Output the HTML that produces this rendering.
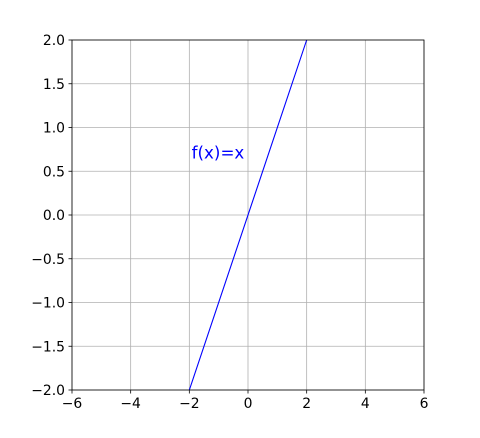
<!DOCTYPE html>
<html><head><meta charset="utf-8"><style>
body{margin:0;background:#fff;}
svg{display:block;font-family:"DejaVu Sans","Liberation Sans",sans-serif;}
</style></head><body>
<svg id="chart" width="480" height="438">
</svg>
<script>
const xTicks=[-6,-4,-2,0,2,4,6];
const yTicks=[-2.0,-1.5,-1.0,-0.5,0.0,0.5,1.0,1.5,2.0];
const lineX=[-2,2];
const lineY=[-2,2];
const labelText="f(x)=x";
const labelPos=[-1.92,0.645];
const L=72,R=424,T=40,B=390;
const sx=v=>L+(v+6)/12*(R-L);
const sy=v=>B-(v+2)/4*(B-T);
const svg=document.getElementById('chart');
const NS='http://www.w3.org/2000/svg';
function mk(tag,attrs,parent){const e=document.createElementNS(NS,tag);for(const k in attrs)e.setAttribute(k,attrs[k]);(parent||svg).appendChild(e);return e;}
const fmt=v=>(v<0?'\u2212':'')+Math.abs(v);
xTicks.forEach(v=>{
  const g=mk('line',{x1:sx(v),x2:sx(v),y1:T,y2:B,stroke:'#b0b0b0','stroke-width':0.8});
  
  
  mk('line',{x1:sx(v),x2:sx(v),y1:B,y2:B+3.5,stroke:'#000','stroke-width':0.8});
  const t=mk('text',{x:sx(v),y:B+18,'text-anchor':'middle','font-size':'13.9px',fill:'#000'});
  t.textContent=fmt(v);
  
  
});
yTicks.forEach(v=>{
  const g=mk('line',{x1:L,x2:R,y1:sy(v),y2:sy(v),stroke:'#b0b0b0','stroke-width':0.8});
  
  
  mk('line',{x1:L-3.5,x2:L,y1:sy(v),y2:sy(v),stroke:'#000','stroke-width':0.8});
  const t=mk('text',{x:L-7,y:sy(v)+5,'text-anchor':'end','font-size':'13.9px',fill:'#000'});
  t.textContent=(v<0?'\u2212':'')+Math.abs(v).toFixed(1);
  
  
});
const pts=lineX.map((x,i)=>sx(x)+','+sy(lineY[i])).join(' ');
const pl=mk('polyline',{points:pts,fill:'none',stroke:'#0000ff','stroke-width':1.1});


const fr=mk('rect',{x:L,y:T,width:R-L,height:B-T,fill:'none',stroke:'#000','stroke-width':0.8});


const lb=mk('text',{x:sx(labelPos[0]),y:sy(labelPos[1]),'font-size':'16.7px',fill:'#0000ff'});
lb.textContent=labelText;


</script>
</body></html>
